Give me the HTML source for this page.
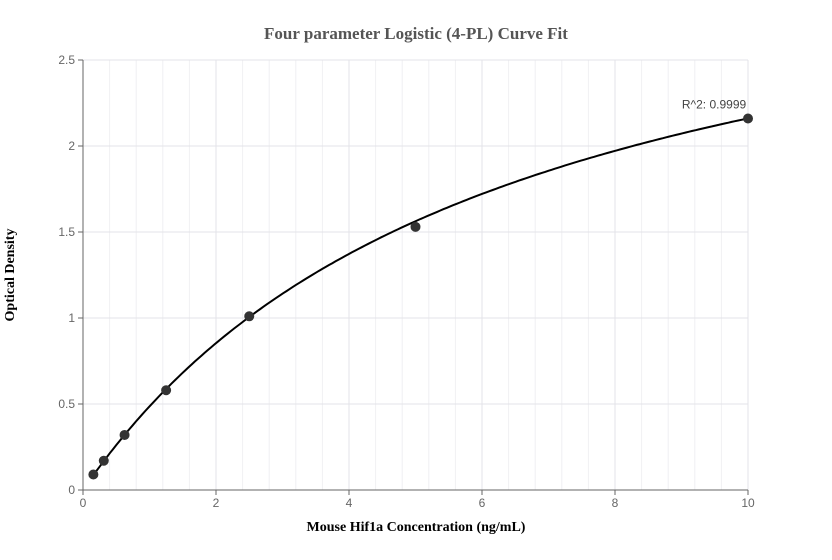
<!DOCTYPE html>
<html><head><meta charset="utf-8"><style>
body{margin:0;background:#fff;}
svg{display:block;font-family:"Liberation Sans",sans-serif;}
</style></head><body>
<svg id="chart" width="832" height="560">
<text x="416" y="39" text-anchor="middle" font-family="Liberation Serif" font-weight="bold" font-size="17" fill="#555">Four parameter Logistic (4-PL) Curve Fit</text>
<g id="grid"></g>
<g id="axes"></g>
<path id="curve" fill="none" stroke="#000" stroke-width="2"></path>
<g id="pts"></g>
<text x="416" y="531" text-anchor="middle" font-family="Liberation Serif" font-weight="bold" font-size="14" fill="#000">Mouse Hif1a Concentration (ng/mL)</text>
<text transform="translate(14,275) rotate(-90)" text-anchor="middle" font-family="Liberation Serif" font-weight="bold" font-size="14" fill="#000">Optical Density</text>
</svg>
<script>
const concentrations=[0.156,0.3125,0.625,1.25,2.5,5,10];
const odValues=[0.09,0.17,0.32,0.58,1.01,1.53,2.16];
const xTicks=[0,2,4,6,8,10];
const yTicks=[0,0.5,1,1.5,2,2.5];
const fitParams=[0,3.5,6.2,1];// bottom, top, c, b
const r2Label="R^2: 0.9999";
const NS="http://www.w3.org/2000/svg";
const X=v=>83+v*66.5, Y=v=>490-v*172;
function mk(t,a,p){const e=document.createElementNS(NS,t);for(const k in a)e.setAttribute(k,a[k]);p.appendChild(e);return e;}
const g=document.getElementById('grid'),ax=document.getElementById('axes'),pts=document.getElementById('pts');
for(let v=0.4;v<10;v+=0.4){const l=mk('line',{x1:X(v),x2:X(v),y1:Y(2.5),y2:Y(0),stroke:'#f0f0f3'},g);

}
xTicks.forEach(v=>{const l=mk('line',{x1:X(v),x2:X(v),y1:Y(2.5),y2:Y(0),stroke:'#e3e3e8'},g);


const t=mk('text',{x:X(v),y:507,'text-anchor':'middle','font-size':12,fill:'#666'},ax);t.textContent=v;


mk('line',{x1:X(v),x2:X(v),y1:490,y2:495,stroke:'#666'},ax);});
yTicks.forEach(v=>{const l=mk('line',{x1:X(0),x2:X(10),y1:Y(v),y2:Y(v),stroke:'#e3e3e8'},g);


const t=mk('text',{x:75,y:Y(v)+4,'text-anchor':'end','font-size':12,fill:'#666'},ax);t.textContent=v;


mk('line',{x1:78,x2:83,y1:Y(v),y2:Y(v),stroke:'#666'},ax);});
mk('line',{x1:83,x2:83,y1:Y(2.5),y2:490,stroke:'#666'},ax);
mk('line',{x1:83,x2:X(10),y1:490,y2:490,stroke:'#666'},ax);
const [A,D,C,B]=fitParams;const f=x=>D+(A-D)/(1+Math.pow(x/C,B));
let d='';for(let i=0;i<=200;i++){const x=concentrations[0]+(10-concentrations[0])*i/200;d+=(i?'L':'M')+X(x).toFixed(1)+','+Y(f(x)).toFixed(1);}
document.getElementById('curve').setAttribute('d',d);
concentrations.forEach((c,i)=>{const p=mk('circle',{cx:X(c),cy:Y(odValues[i]),r:5,fill:'#333'},pts);

});
const r=mk('text',{x:X(10)-34,y:Y(odValues[6])-10,'text-anchor':'middle','font-size':12,fill:'#444'},ax);r.textContent=r2Label;


</script>
</body></html>
